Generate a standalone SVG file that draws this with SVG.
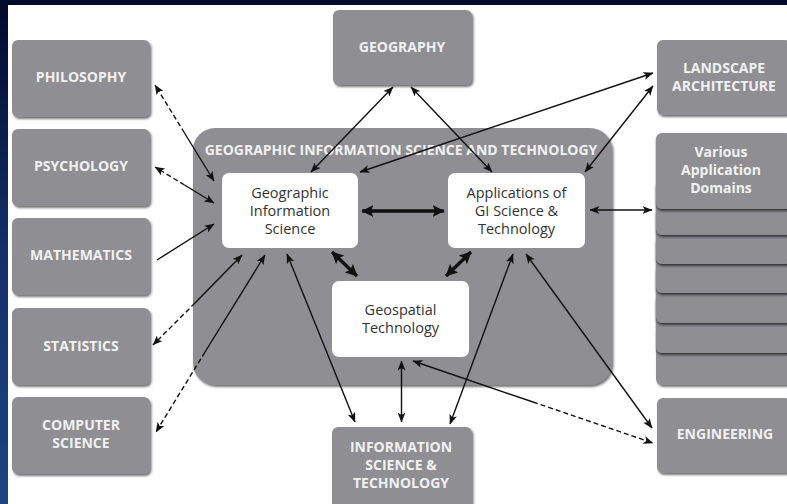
<svg xmlns="http://www.w3.org/2000/svg" width="787" height="504" viewBox="0 0 787 504">
  <defs>
    <linearGradient id="frame" x1="0" y1="0" x2="0" y2="1">
      <stop offset="0" stop-color="#020a2c"/>
      <stop offset="0.5" stop-color="#12306a"/>
      <stop offset="1" stop-color="#1f4482"/>
    </linearGradient>
    <filter id="shadow" x="-10%" y="-10%" width="125%" height="130%">
      <feDropShadow dx="1.5" dy="2" stdDeviation="1.2" flood-color="#3a3a3e" flood-opacity="0.7"/>
    </filter>
    <filter id="cardshadow" x="-10%" y="-10%" width="125%" height="140%">
      <feDropShadow dx="0.5" dy="2" stdDeviation="0.8" flood-color="#2e2e32" flood-opacity="0.9"/>
    </filter>
    <marker id="tip" viewBox="0 0 10 8" refX="9.5" refY="4" markerWidth="10" markerHeight="8" markerUnits="userSpaceOnUse" orient="auto-start-reverse">
      <path d="M0,0 L10,4 L0,8 L2.5,4 z" fill="#111"/>
    </marker>
    <marker id="bigtip" viewBox="0 0 10 10" refX="9.5" refY="5" markerWidth="12" markerHeight="12" markerUnits="userSpaceOnUse" orient="auto-start-reverse">
      <path d="M0,0 L10,5 L0,10 L2,5 z" fill="#111"/>
    </marker>
  </defs>
  <style>
    .box { fill: #8e8e93; filter: url(#shadow); }
    .card { fill: #8e8e93; filter: url(#cardshadow); }
    .inner { fill: #ffffff; }
    .lbl { font-family: "Open Sans", "DejaVu Sans", sans-serif; font-weight: 700; font-size: 14px; fill: #f1f1f1; text-anchor: middle; }
    .txt { font-family: "Open Sans", "DejaVu Sans", sans-serif; font-size: 14.5px; fill: #333; text-anchor: middle; }
    .ln { stroke: #111; stroke-width: 1.4; fill: none; }
    .both { marker-start: url(#tip); marker-end: url(#tip); }
    .end { marker-end: url(#tip); }
    .dash { stroke-dasharray: 5 3; }
    .thick { stroke: #111; stroke-width: 3.4; fill: none; marker-start: url(#bigtip); marker-end: url(#bigtip); }
  </style>

  <!-- frame and page -->
  <rect x="0" y="0" width="787" height="504" fill="url(#frame)"/>
  <rect x="8" y="5" width="779" height="499" fill="#ffffff"/>

  <!-- central container -->
  <g id="gist">
    <rect class="box" x="193" y="128" width="419" height="257" rx="22"/>
    <text class="lbl" x="401" y="155">GEOGRAPHIC INFORMATION SCIENCE AND TECHNOLOGY</text>
  </g>

  <g id="gis">
    <rect class="inner" x="222" y="173" width="136" height="75" rx="7"/>
    <text class="txt" x="290" y="198">Geographic</text>
    <text class="txt" x="290" y="216">Information</text>
    <text class="txt" x="290" y="234">Science</text>
  </g>
  <g id="applications">
    <rect class="inner" x="448" y="173" width="137" height="75" rx="7"/>
    <text class="txt" x="516.5" y="198">Applications of</text>
    <text class="txt" x="516.5" y="216">GI Science &amp;</text>
    <text class="txt" x="516.5" y="234">Technology</text>
  </g>
  <g id="geospatial">
    <rect class="inner" x="332" y="281" width="137" height="76" rx="7"/>
    <text class="txt" x="400.5" y="315">Geospatial</text>
    <text class="txt" x="400.5" y="333">Technology</text>
  </g>

  <!-- left column -->
  <g id="philosophy">
    <rect class="box" x="12" y="40" width="138" height="77" rx="6"/>
    <text class="lbl" x="81" y="82">PHILOSOPHY</text>
  </g>
  <g id="psychology">
    <rect class="box" x="12" y="129" width="138" height="77" rx="6"/>
    <text class="lbl" x="81" y="171">PSYCHOLOGY</text>
  </g>
  <g id="mathematics">
    <rect class="box" x="12" y="218" width="138" height="77" rx="6"/>
    <text class="lbl" x="81" y="260">MATHEMATICS</text>
  </g>
  <g id="statistics">
    <rect class="box" x="12" y="308" width="138" height="77" rx="6"/>
    <text class="lbl" x="81" y="351">STATISTICS</text>
  </g>
  <g id="computer-science">
    <rect class="box" x="12" y="397" width="138" height="77" rx="6"/>
    <text class="lbl" x="81" y="430">COMPUTER</text>
    <text class="lbl" x="81" y="448">SCIENCE</text>
  </g>

  <!-- top and bottom -->
  <g id="geography">
    <rect class="box" x="333" y="10" width="139" height="75" rx="6"/>
    <text class="lbl" x="402" y="52">GEOGRAPHY</text>
  </g>
  <g id="information-science">
    <rect class="box" x="332" y="427" width="140" height="90" rx="6"/>
    <text class="lbl" x="401" y="452">INFORMATION</text>
    <text class="lbl" x="401" y="470">SCIENCE &amp;</text>
    <text class="lbl" x="401" y="488">TECHNOLOGY</text>
  </g>

  <!-- right column -->
  <g id="landscape">
    <rect class="box" x="657" y="40" width="134" height="75" rx="6"/>
    <text class="lbl" x="724" y="73">LANDSCAPE</text>
    <text class="lbl" x="724" y="91">ARCHITECTURE</text>
  </g>
  <g id="domains">
    <!-- stacked cards, drawn from the bottom card up -->
    <rect class="box" x="656" y="325" width="136" height="60" rx="6"/>
    <rect class="card" x="656" y="295" width="136" height="58" rx="6"/>
    <rect class="card" x="656" y="265" width="136" height="58" rx="6"/>
    <rect class="card" x="656" y="236" width="136" height="57" rx="6"/>
    <rect class="card" x="656" y="207" width="136" height="57" rx="6"/>
    <rect class="card" x="656" y="180" width="136" height="55" rx="6"/>
    <rect class="card" x="656" y="133" width="136" height="76" rx="6"/>
    <text class="lbl" x="721" y="157">Various</text>
    <text class="lbl" x="721" y="175">Application</text>
    <text class="lbl" x="721" y="193">Domains</text>
  </g>
  <g id="engineering">
    <rect class="box" x="657" y="398" width="134" height="75" rx="6"/>
    <text class="lbl" x="725" y="439">ENGINEERING</text>
  </g>

  <!-- connectors -->
  <g id="connectors">
    <!-- philosophy: dashed outer half, solid inner half -->
    <line class="ln dash" x1="184.5" y1="133" x2="155" y2="85" marker-end="url(#tip)"/>
    <line class="ln end" x1="184.5" y1="133" x2="214" y2="181"/>
    <!-- psychology -->
    <line class="ln dash" x1="184.5" y1="185" x2="155" y2="167" marker-end="url(#tip)"/>
    <line class="ln end" x1="184.5" y1="185" x2="214" y2="203"/>
    <!-- mathematics -->
    <line class="ln end" x1="157" y1="260" x2="214" y2="224"/>
    <!-- statistics -->
    <line class="ln dash" x1="195" y1="303" x2="153" y2="345" marker-end="url(#tip)"/>
    <line class="ln end" x1="195" y1="303" x2="242" y2="255"/>
    <!-- computer science -->
    <line class="ln dash" x1="205" y1="352" x2="156" y2="432" marker-end="url(#tip)"/>
    <line class="ln end" x1="205" y1="352" x2="265" y2="255"/>
    <!-- information science to GIS -->
    <line class="ln both" x1="287" y1="254" x2="355" y2="422"/>
    <!-- geography links -->
    <line class="ln both" x1="311" y1="172" x2="393" y2="87"/>
    <line class="ln both" x1="411" y1="87" x2="492" y2="172"/>
    <!-- landscape architecture links -->
    <line class="ln both" x1="360" y1="172" x2="653" y2="73"/>
    <line class="ln both" x1="585" y1="172" x2="653" y2="86"/>
    <!-- application domains -->
    <line class="ln both" x1="590" y1="210" x2="652" y2="210"/>
    <!-- applications to information science and engineering -->
    <line class="ln both" x1="513" y1="254" x2="450" y2="424"/>
    <line class="ln both" x1="526" y1="254" x2="652" y2="428"/>
    <!-- geospatial to information science -->
    <line class="ln both" x1="401.5" y1="361" x2="401.5" y2="422"/>
    <!-- geospatial to engineering -->
    <line class="ln end" x1="533" y1="402" x2="413" y2="361"/>
    <line class="ln dash end" x1="533" y1="402" x2="653" y2="443"/>
    <!-- core relations -->
    <line class="thick" x1="362" y1="211" x2="444" y2="211"/>
    <line class="thick" x1="332" y1="252" x2="357" y2="276"/>
    <line class="thick" x1="471" y1="252" x2="446" y2="276"/>
  </g>
</svg>
